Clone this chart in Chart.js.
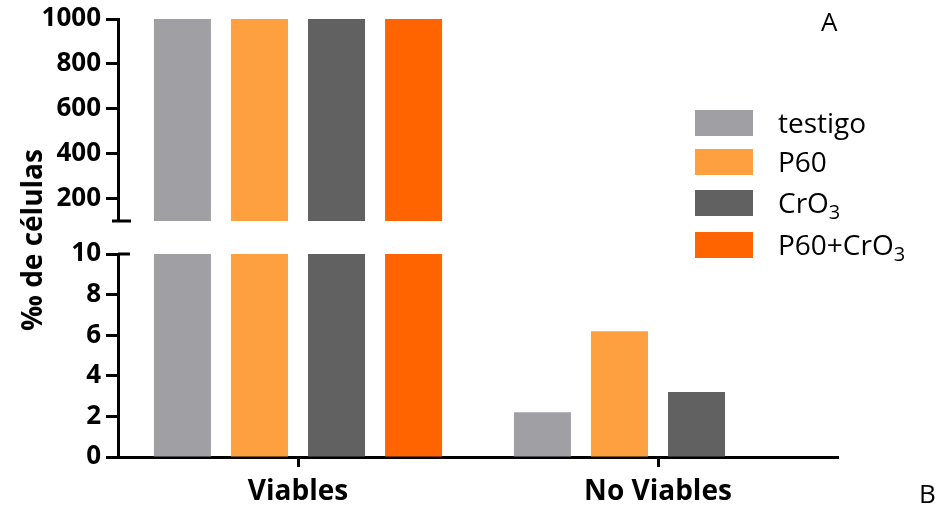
<!DOCTYPE html>
<html>
<head>
<meta charset="utf-8">
<script src="https://cdn.jsdelivr.net/npm/chart.js@4.4.1/dist/chart.umd.min.js"></script>
<style>
  html, body { margin: 0; padding: 0; background: #fff; }
  #wrap { position: relative; width: 943px; height: 508px; overflow: hidden; font-family: "Open Sans", sans-serif; }
  canvas { position: absolute; left: 0; }
  #top { top: 0; }
  #bottom { top: 240px; }
  .ytitle { position: absolute; left: 31px; top: 240px; transform: translate(-50%, -50%) rotate(-90deg);
            font-weight: bold; font-size: 28px; white-space: nowrap; color: #000; }
  .legend { position: absolute; left: 695px; top: 110px; }
  .legend .row { position: absolute; left: 0; height: 26px; white-space: nowrap; }
  .legend .box { position: absolute; left: 0; top: 0; width: 58px; height: 26px; }
  .legend .txt { position: absolute; left: 83px; top: 50%; transform: translateY(-52%); font-size: 28px; color: #000; }
  .legend sub { font-size: 20px; vertical-align: -6px; line-height: 0; }
  .mark { position: absolute; font-size: 26px; color: #000; line-height: 1; }
</style>
</head>
<body>
<div id="wrap">
  <canvas id="top" width="943" height="240"></canvas>
  <canvas id="bottom" width="943" height="268"></canvas>
  <div class="ytitle">‰ de células</div>
  <div class="legend" id="legend"></div>
  <div class="mark" style="left:821px; top:8px;">A</div>
  <div class="mark" style="left:919px; top:480px;">B</div>
</div>
<script>
(function () {
	'use strict';

	// ── Data ───────────────────────────────────────
	var categories = ['Viables', 'No Viables'];
	var testigo = [1000, 2.2];
	var p60 = [1000, 6.2];
	var cro3 = [1000, 3.2];
	var p60cro3 = [1000, 0];

	var topTicks = [200, 400, 600, 800, 1000];
	var bottomTicks = [0, 2, 4, 6, 8, 10];

	var seriesNames = ['testigo', 'P60', 'CrO<sub>3</sub>', 'P60+CrO<sub>3</sub>'];
	var seriesData = [testigo, p60, cro3, p60cro3];
	var colors = ['#a09fa4', '#ffa040', '#616161', '#ff6400'];

	var tickFont = { family: 'Open Sans', size: 26, weight: 'bold' };
	var catFont = { family: 'Open Sans', size: 28, weight: 'bold' };

	function datasets() {
		return seriesData.map(function (d, i) {
			return {
				label: seriesNames[i],
				data: d,
				backgroundColor: colors[i],
				borderWidth: 0,
				categoryPercentage: 0.856,
				barPercentage: 0.74,
				clip: 0
			};
		});
	}

	// axis break marks
	var breakMark = {
		id: 'breakMark',
		afterDraw: function (chart, args, opts) {
			var ctx = chart.ctx;
			var a = chart.chartArea;
			var y = opts.where === 'bottom' ? a.bottom : a.top;
			ctx.save();
			ctx.strokeStyle = '#000';
			ctx.lineWidth = 3;
			ctx.beginPath();
			ctx.moveTo(a.left - opts.leftLen, y);
			ctx.lineTo(a.left + opts.rightLen, y);
			ctx.stroke();
			ctx.restore();
		}
	};

	function yScale(min, max, ticks) {
		return {
			min: min,
			max: max,
			afterFit: function (s) { s.width = 118; s.paddingTop = 0; s.paddingBottom = 0; },
			afterBuildTicks: function (s) { s.ticks = ticks.map(function (v) { return { value: v }; }); },
			border: { display: true, color: '#000', width: 3 },
			grid: { drawOnChartArea: false, drawTicks: true, tickLength: 12, tickWidth: 3, tickColor: '#000' },
			ticks: { font: tickFont, color: '#000', padding: 5, callback: function (v) { return String(v); } }
		};
	}

	// ── Upper segment: 100 – 1000 ──────────────────
	new Chart(document.getElementById('top'), {
		type: 'bar',
		data: { labels: categories, datasets: datasets() },
		plugins: [breakMark],
		options: {
			responsive: false,
			animation: false,
			layout: { padding: { left: 0, right: 105, top: 19, bottom: 19 } },
			plugins: {
				legend: { display: false },
				tooltip: { enabled: false },
				breakMark: { where: 'bottom', leftLen: 6, rightLen: 13 }
			},
			scales: {
				x: { display: false },
				y: yScale(100, 1000, topTicks)
			}
		}
	});

	// ── Lower segment: 0 – 10 ──────────────────────
	new Chart(document.getElementById('bottom'), {
		type: 'bar',
		data: { labels: categories, datasets: datasets() },
		plugins: [breakMark],
		options: {
			responsive: false,
			animation: false,
			layout: { padding: { left: 0, right: 105, top: 14, bottom: 0 } },
			plugins: {
				legend: { display: false },
				tooltip: { enabled: false },
				breakMark: { where: 'top', leftLen: 0, rightLen: 12 }
			},
			scales: {
				x: {
					afterFit: function (s) { s.height = 51; },
					border: { display: true, color: '#000', width: 3 },
					grid: { offset: false, drawOnChartArea: false, drawTicks: true, tickLength: 10, tickWidth: 3, tickColor: '#000' },
					ticks: { font: catFont, color: '#000', padding: 8 }
				},
				y: yScale(0, 10, bottomTicks)
			}
		}
	});

	// ── Legend ─────────────────────────────────────
	var legend = document.getElementById('legend');
	var rowTops = [0, 39, 80, 122];
	seriesNames.forEach(function (name, i) {
		var row = document.createElement('div');
		row.className = 'row';
		row.style.top = rowTops[i] + 'px';
		row.innerHTML = '<div class="box" style="background:' + colors[i] + '"></div>' +
			'<div class="txt">' + name + '</div>';
		legend.appendChild(row);
	});
})();
</script>
</body>
</html>
